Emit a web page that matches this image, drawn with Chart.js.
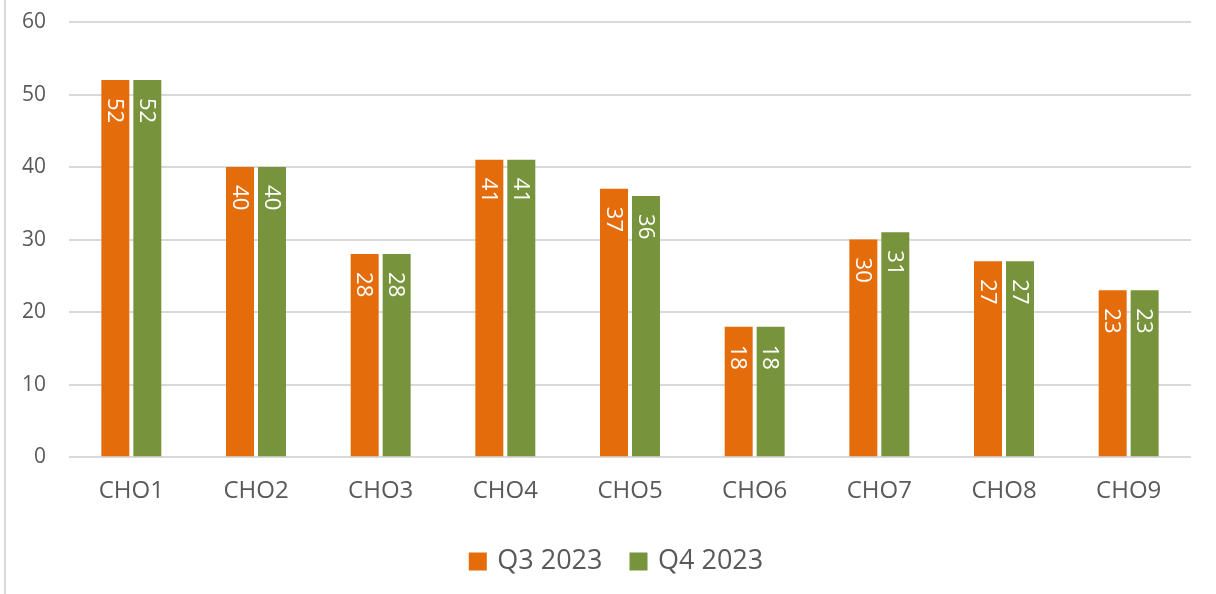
<!DOCTYPE html>
<html>
<head>
<meta charset="utf-8">
<script src="https://cdn.jsdelivr.net/npm/chart.js@4.4.1/dist/chart.umd.min.js"></script>
<style>
  html, body { margin: 0; padding: 0; background: #fff; }
  #wrap { position: relative; width: 1216px; height: 594px; }
  #edge { position: absolute; left: 4px; top: 0; width: 2px; height: 594px; background: #d9d9d9; }
</style>
</head>
<body>
<div id="wrap">
  <canvas id="chart" width="1216" height="594"></canvas>
  <div id="edge"></div>
</div>
<script>
const categories = ['CHO1', 'CHO2', 'CHO3', 'CHO4', 'CHO5', 'CHO6', 'CHO7', 'CHO8', 'CHO9'];
const q3Values = [52, 40, 28, 41, 37, 18, 30, 27, 23];
const q4Values = [52, 40, 28, 41, 36, 18, 31, 27, 23];
const seriesNames = ['Q3 2023', 'Q4 2023'];
const yTicks = [0, 10, 20, 30, 40, 50, 60];

const FONT = "'Open Sans', sans-serif";
const TEXT = '#595959';

// white rotated value labels inside the top of each bar
const barLabels = {
  id: 'barLabels',
  afterDatasetsDraw(chart) {
    const ctx = chart.ctx;
    ctx.save();
    ctx.fillStyle = '#ffffff';
    ctx.font = '22px ' + FONT;
    ctx.textAlign = 'left';
    ctx.textBaseline = 'middle';
    chart.data.datasets.forEach((ds, i) => {
      chart.getDatasetMeta(i).data.forEach((bar, j) => {
        ctx.save();
        ctx.translate(bar.x, bar.y + 18);
        ctx.rotate(Math.PI / 2);
        ctx.fillText(String(ds.data[j]), 0, 1);
        ctx.restore();
      });
    });
    ctx.restore();
  }
};

// legend sits a bit right of the canvas centre, under the plot area
const legendShift = {
  id: 'legendShift',
  afterLayout(chart) {
    if (chart.legend) {
      chart.legend.left += 22;
      chart.legend.right += 22;
    }
  }
};

new Chart(document.getElementById('chart'), {
  type: 'bar',
  data: {
    labels: categories,
    datasets: [
      {
        label: seriesNames[0],
        data: q3Values,
        backgroundColor: '#E46C0A',
        barPercentage: 0.875,
        categoryPercentage: 0.513
      },
      {
        label: seriesNames[1],
        data: q4Values,
        backgroundColor: '#77933C',
        barPercentage: 0.875,
        categoryPercentage: 0.513
      }
    ]
  },
  options: {
    responsive: false,
    animation: false,
    layout: { padding: { top: 22, right: 25, left: 0, bottom: 9 } },
    plugins: {
      tooltip: { enabled: false },
      legend: {
        position: 'bottom',
        labels: {
          color: TEXT,
          font: { family: FONT, size: 27 },
          boxWidth: 12,
          boxHeight: 12,
          padding: 30,
          // thick same-colour outline makes an 18px square closer to the text
          generateLabels: (chart) => Chart.defaults.plugins.legend.labels.generateLabels(chart).map(item => {
            item.lineWidth = 6;
            item.strokeStyle = item.fillStyle;
            return item;
          })
        }
      }
    },
    scales: {
      x: {
        grid: { display: false },
        border: { display: false },
        ticks: { color: TEXT, font: { family: FONT, size: 24 }, padding: 12 }
      },
      y: {
        min: 0,
        max: 60,
        afterBuildTicks: (scale) => { scale.ticks = yTicks.map(v => ({ value: v })); },
        afterFit: (scale) => { scale.width = 69; },
        grid: { color: '#d9d9d9', lineWidth: 2, drawTicks: true, tickLength: 23, tickColor: 'rgba(0,0,0,0)' },
        border: { display: false },
        ticks: { color: TEXT, font: { family: FONT, size: 21 }, padding: 0 }
      }
    }
  },
  plugins: [barLabels, legendShift]
});
</script>
</body>
</html>
